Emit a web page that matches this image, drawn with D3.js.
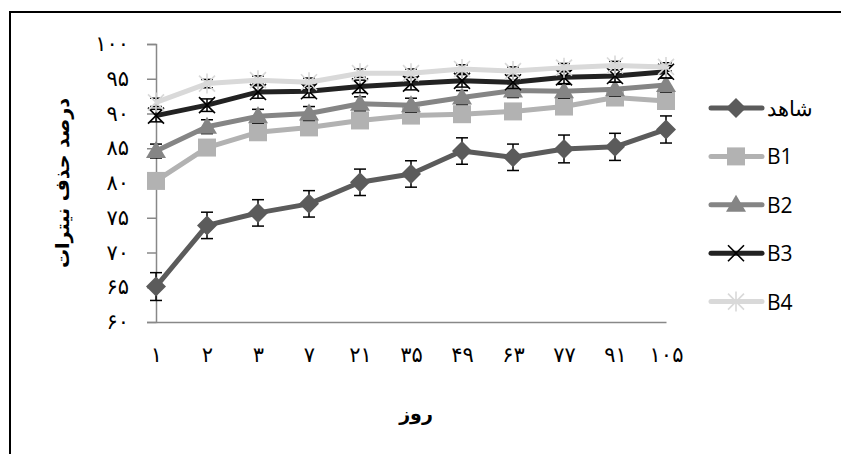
<!DOCTYPE html>
<html>
<head>
<meta charset="utf-8">
<script src="https://cdn.jsdelivr.net/npm/d3@7/dist/d3.min.js"></script>
<style>
  body { margin: 0; background: #fff; }
  svg { display: block; }
</style>
</head>
<body>
<div id="chart"></div>
<script>
// days (Persian digits, as on the axis)
var days = ["۱", "۲", "۳", "۷", "۲۱", "۳۵", "۴۹", "۶۳", "۷۷", "۹۱", "۱۰۵"];
var yTicks = [60, 65, 70, 75, 80, 85, 90, 95, 100];

var seriesNames = ["شاهد", "B1", "B2", "B3", "B4"];
var control = [65.1, 73.9, 75.7, 77.0, 80.1, 81.3, 84.6, 83.7, 84.9, 85.2, 87.7];
var b1 = [80.3, 85.1, 87.3, 88.0, 89.0, 89.7, 89.9, 90.3, 91.0, 92.3, 91.8];
var b2 = [84.6, 88.1, 89.6, 90.0, 91.4, 91.2, 92.3, 93.3, 93.2, 93.5, 94.1];
var b3 = [89.7, 91.2, 93.1, 93.2, 93.9, 94.3, 94.7, 94.5, 95.2, 95.4, 96.0];
var b4 = [91.6, 94.3, 94.8, 94.5, 95.8, 95.8, 96.4, 96.1, 96.6, 96.9, 96.7];

// standard errors
var controlErr = [2.0, 1.9, 1.9, 1.9, 1.9, 1.9, 1.9, 1.9, 2.0, 1.95, 1.95];
var b1Err = [0.8, 0.8, 0.8, 0.8, 0.8, 0.8, 0.8, 0.8, 0.8, 0.8, 0.8];
var b2Err = [1.0, 1.0, 1.0, 1.0, 1.0, 1.0, 1.0, 1.0, 1.0, 1.0, 1.0];
var b3Err = [0.9, 0.9, 0.9, 0.9, 0.9, 0.9, 0.9, 0.9, 0.9, 0.9, 0.9];
var b4Err = [0.6, 0.6, 0.6, 0.6, 0.6, 0.6, 0.6, 0.6, 0.6, 0.6, 0.6];

var allValues = [control, b1, b2, b3, b4];
var allErrors = [controlErr, b1Err, b2Err, b3Err, b4Err];
var colors = ["#5b5b5b", "#b2b2b2", "#858585", "#222222", "#d9d9d9"];
var markers = ["diamond", "square", "triangle", "x", "star"];

var W = 841, H = 454;
var svg = d3.select("#chart").append("svg")
	.attr("width", W)
	.attr("height", H);

// outer frame
svg.append("rect")
	.attr("x", 10).attr("y", 12)
	.attr("width", 840).attr("height", 450)
	.attr("fill", "none")
	.attr("stroke", "#000")
	.attr("stroke-width", 2);

var x = d3.scalePoint().domain(days).range([156, 666]);
var y = d3.scaleLinear().domain([60, 100]).range([322, 44]);

var toFa = function(n) {
	return String(n).replace(/[0-9]/g, function(c) { return "۰۱۲۳۴۵۶۷۸۹"[+c]; });
};

// y axis
var yAxis = svg.append("g")
	.attr("transform", "translate(156,0)")
	.call(d3.axisLeft(y).tickValues(yTicks).tickSize(9).tickPadding(18).tickFormat(toFa));
yAxis.select(".domain").attr("stroke", "#888").attr("stroke-width", 1.5);
yAxis.selectAll(".tick line").attr("stroke", "#888").attr("stroke-width", 1.5);
yAxis.selectAll(".tick text")
	.attr("font-family", "DejaVu Sans")
	.attr("font-size", 21)
	.attr("fill", "#000");

// x axis
var xAxis = svg.append("g")
	.attr("transform", "translate(0,322)")
	.call(d3.axisBottom(x).tickSize(0).tickPadding(25));
xAxis.select(".domain").attr("stroke", "#888").attr("stroke-width", 1.5);
xAxis.selectAll(".tick text")
	.attr("font-family", "DejaVu Sans")
	.attr("font-size", 21)
	.attr("fill", "#000");

// axis titles
svg.append("text")
	.attr("transform", "translate(69,183)rotate(-90)")
	.attr("text-anchor", "middle")
	.attr("font-family", "DejaVu Sans")
	.attr("font-weight", "bold")
	.attr("font-size", 19)
	.text("درصد حذف نیترات");

svg.append("text")
	.attr("x", 416).attr("y", 420)
	.attr("text-anchor", "middle")
	.attr("font-family", "DejaVu Sans")
	.attr("font-weight", "bold")
	.attr("font-size", 19)
	.text("روز");

var markerPath = function(type) {
	if (type == "diamond") return "M0,-10L10,0L0,10L-10,0Z";
	if (type == "square") return "M-9,-9H9V9H-9Z";
	if (type == "triangle") return "M0,-10L10,7H-10Z";
	if (type == "x") return "M-8,-8L8,8M-8,8L8,-8";
	if (type == "star") return "M-8,-8L8,8M-8,8L8,-8M0,-10V10";
};

var drawMarker = function(g, type, color) {
	var filled = (type == "diamond" || type == "square" || type == "triangle");
	g.append("path")
		.attr("d", markerPath(type))
		.attr("fill", filled ? color : "none")
		.attr("stroke", filled ? "none" : (type == "x" ? "#000" : color))
		.attr("stroke-width", 1.6);
};

var line = d3.line()
	.x(function(d, i) { return x(days[i]); })
	.y(function(d) { return y(d); });

allValues.forEach(function(vals, s) {
	var g = svg.append("g").attr("class", "series");
	var errs = allErrors[s];

	// error bars
	var eb = g.selectAll(".err")
		.data(vals)
		.enter().append("g")
		.attr("class", "err")
		.attr("stroke", "#000")
		.attr("stroke-width", 1.5);
	eb.append("line")
		.attr("x1", function(d, i) { return x(days[i]); })
		.attr("x2", function(d, i) { return x(days[i]); })
		.attr("y1", function(d, i) { return y(d + errs[i]); })
		.attr("y2", function(d, i) { return y(d - errs[i]); });
	eb.append("line")
		.attr("x1", function(d, i) { return x(days[i]) - 6; })
		.attr("x2", function(d, i) { return x(days[i]) + 6; })
		.attr("y1", function(d, i) { return y(d + errs[i]); })
		.attr("y2", function(d, i) { return y(d + errs[i]); });
	eb.append("line")
		.attr("x1", function(d, i) { return x(days[i]) - 6; })
		.attr("x2", function(d, i) { return x(days[i]) + 6; })
		.attr("y1", function(d, i) { return y(d - errs[i]); })
		.attr("y2", function(d, i) { return y(d - errs[i]); });

	g.append("path")
		.datum(vals)
		.attr("d", line)
		.attr("fill", "none")
		.attr("stroke", colors[s])
		.attr("stroke-width", 5)
		.attr("stroke-linejoin", "round");

	g.selectAll(".mk")
		.data(vals)
		.enter().append("g")
		.attr("class", "mk")
		.attr("transform", function(d, i) { return "translate(" + x(days[i]) + "," + y(d) + ")"; })
		.each(function() { drawMarker(d3.select(this), markers[s], colors[s]); });
});

// legend
var legend = svg.selectAll(".legend")
	.data(seriesNames)
	.enter().append("g")
	.attr("class", "legend")
	.attr("transform", function(d, i) { return "translate(0," + (108 + i * 48.4) + ")"; });

legend.append("line")
	.attr("x1", 711).attr("x2", 762)
	.attr("stroke", function(d, i) { return colors[i]; })
	.attr("stroke-width", 5)
	.attr("stroke-linecap", "round");

legend.each(function(d, i) {
	var m = d3.select(this).append("g").attr("transform", "translate(736,0)");
	drawMarker(m, markers[i], colors[i]);
});

legend.append("text")
	.attr("x", 767)
	.attr("y", 8)
	.attr("font-family", "Open Sans")
	.attr("font-size", 21)
	.attr("fill", "#000")
	.text(function(d) { return d; });
</script>
</body>
</html>
